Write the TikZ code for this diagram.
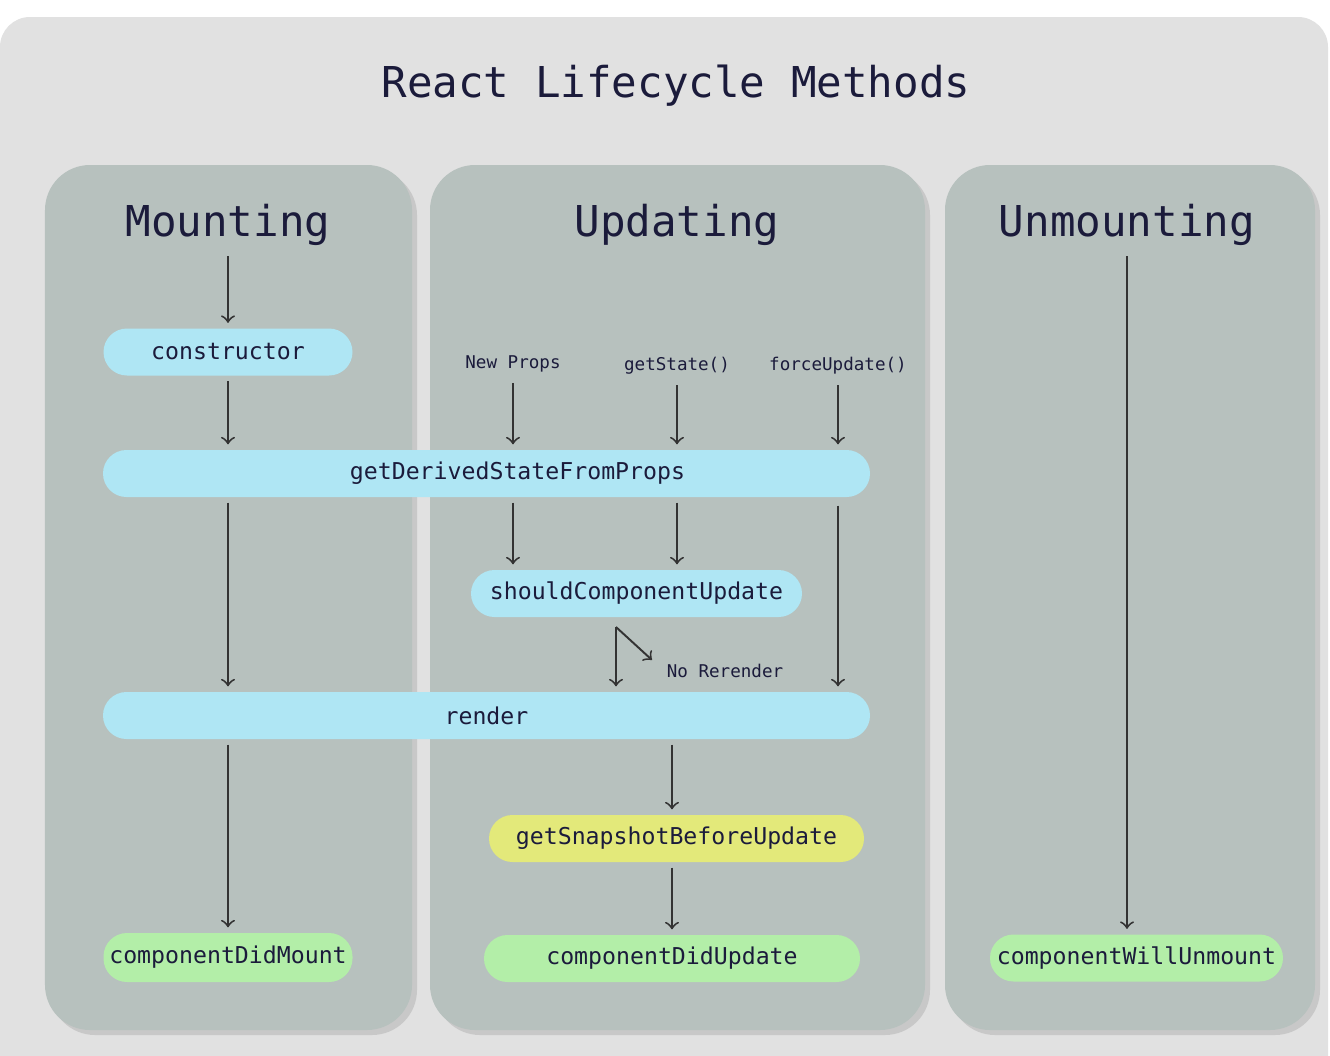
\documentclass[tikz,border=0pt]{standalone}
\usepackage{fontspec}
\setmonofont{DejaVu Sans Mono}
\usetikzlibrary{shadows}

\definecolor{canvas}{HTML}{E1E1E1}
\definecolor{phasebg}{HTML}{B7C1BE}
\definecolor{ink}{HTML}{1B1B3B}
\definecolor{wire}{HTML}{333333}
\definecolor{callblue}{HTML}{AFE6F4}
\definecolor{callyellow}{HTML}{E3E97A}
\definecolor{callgreen}{HTML}{B3EEA8}

\tikzset{
  heading/.style={font=\ttfamily\fontsize{12.1}{14}\selectfont, text=ink, inner sep=0.05cm},
  phase/.style={fill=phasebg, rounded corners=0.45cm,
    drop shadow={shadow xshift=0.05cm, shadow yshift=-0.05cm, opacity=0.25}},
  method/.style={rounded corners=0.235cm, minimum height=0.47cm, inner sep=0,
    font=\ttfamily\fontsize{6.6}{8}\selectfont, text=ink},
  mblue/.style={method, fill=callblue},
  myellow/.style={method, fill=callyellow},
  mgreen/.style={method, fill=callgreen},
  trigger/.style={font=\ttfamily\fontsize{5}{6}\selectfont, text=ink, inner sep=0.05cm},
  flow/.style={->, draw=wire, line width=0.55pt, shorten >=0.05cm, shorten <=0.05cm}
}

\begin{document}
\begin{tikzpicture}
  \useasboundingbox (0,0) rectangle (13.3,-10.56);
  \clip (0,0) rectangle (13.3,-10.56);
  \fill[white] (0,0) rectangle (13.3,-10.56);
  \fill[canvas, rounded corners=0.3cm] (0,-0.17) rectangle (13.28,-11);

  % phase panels
  \fill[phase] (0.45,-1.65) rectangle (4.12,-10.30);
  \fill[phase] (4.30,-1.65) rectangle (9.25,-10.30);
  \fill[phase] (9.45,-1.65) rectangle (13.15,-10.30);

  \node[heading] (title) at (6.76,-0.86) {React Lifecycle Methods};
  \node[heading] (mount) at (2.28,-2.25) {Mounting};
  \node[heading] (update) at (6.77,-2.25) {Updating};
  \node[heading] (unmount) at (11.27,-2.25) {Unmounting};

  % methods
  \node[mblue, minimum width=2.49cm] (ctor) at (2.28,-3.52) {constructor};
  \node[mblue, minimum width=7.67cm] (gdsfp) at (4.865,-4.735) {\hspace*{0.62cm}getDerivedStateFromProps};
  \node[mblue, minimum width=3.31cm] (scu) at (6.365,-5.935) {shouldComponentUpdate};
  \node[mblue, minimum width=7.67cm] (render) at (4.865,-7.155) {render};
  \node[myellow, minimum width=3.75cm] (gsbu) at (6.765,-8.385) {getSnapshotBeforeUpdate};
  \node[mgreen, minimum width=2.49cm, minimum height=0.49cm] (cdm) at (2.28,-9.575) {componentDidMount};
  \node[mgreen, minimum width=3.76cm] (cdu) at (6.72,-9.585) {componentDidUpdate};
  \node[mgreen, minimum width=2.93cm] (cwu) at (11.365,-9.58) {componentWillUnmount};

  % update triggers
  \node[trigger] (props) at (5.13,-3.64) {New Props};
  \node[trigger] (state) at (6.77,-3.66) {getState()};
  \node[trigger] (force) at (8.38,-3.66) {forceUpdate()};
  \node[trigger] (norender) at (7.25,-6.71) {No Rerender};

  \coordinate (fork) at (6.16,-6.27);
  \coordinate (skip) at (6.52,-6.60);

  % mounting
  \draw[flow] (mount) -- (ctor);
  \draw[flow] (ctor) -- (ctor.south |- gdsfp.north);
  \draw[flow] (ctor.south |- gdsfp.south) -- (ctor.south |- render.north);
  \draw[flow] (ctor.south |- render.south) -- (cdm);
  % updating
  \draw[flow] (props) -- (props.south |- gdsfp.north);
  \draw[flow] (state) -- (state.south |- gdsfp.north);
  \draw[flow] (force) -- (force.south |- gdsfp.north);
  \draw[flow] (props.south |- gdsfp.south) -- (props.south |- scu.north);
  \draw[flow] (state.south |- gdsfp.south) -- (state.south |- scu.north);
  \draw[flow] ([yshift=-0.03cm]force.south |- gdsfp.south) -- (force.south |- render.north);
  \draw[flow, shorten <=0] (fork) -- (fork |- render.north);
  \draw[flow, shorten <=0, shorten >=0] (fork) -- (skip);
  \draw[flow] (cdu.north |- render.south) -- (cdu.north |- gsbu.north);
  \draw[flow] (cdu.north |- gsbu.south) -- (cdu);
  % unmounting
  \draw[flow] (unmount) -- (unmount |- cwu.north);
\end{tikzpicture}
\end{document}
